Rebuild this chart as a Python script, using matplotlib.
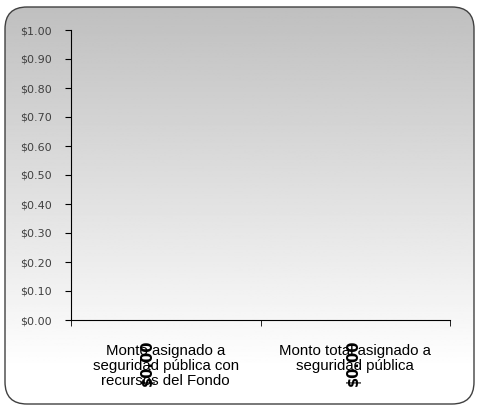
import numpy as np
import matplotlib
matplotlib.use('Agg')
import matplotlib.pyplot as plt
from matplotlib.patches import FancyBboxPatch

categories = ['Monto asignado a\nseguridad pública con\nrecursos del Fondo',
              'Monto total asignado a\nseguridad pública']
values = [0.0, 0.0]
yticks = [0.0, 0.1, 0.2, 0.3, 0.4, 0.5, 0.6, 0.7, 0.8, 0.9, 1.0]
label_dx = [-13, -1]   # data label offsets (points)

fig = plt.figure(figsize=(4.79, 4.08), dpi=100)
fig.patch.set_facecolor('white')

# background: rounded box with vertical grey->white gradient
bg = fig.add_axes([0, 0, 1, 1])
bg.axis('off')
fill = FancyBboxPatch((5, 4), 469, 397, boxstyle='round,pad=0,rounding_size=22',
                      facecolor='white', edgecolor='none', zorder=0)
bg.add_patch(fill)
grad = np.linspace(0.75, 1.0, 256).reshape(-1, 1)
im = bg.imshow(grad, cmap='gray', vmin=0, vmax=1, aspect='auto',
               extent=(5, 474, 40, 401), origin='upper', zorder=1)
box = FancyBboxPatch((5, 4), 469, 397, boxstyle='round,pad=0,rounding_size=22',
                     facecolor='none', edgecolor='#404040', linewidth=1.0, zorder=2)
bg.add_patch(box)
im.set_clip_path(box)
bg.set_xlim(0, 479)
bg.set_ylim(0, 408)

ax = fig.add_axes([71 / 479, 1 - 320 / 408, (450 - 71) / 479, (320 - 30) / 408])
ax.patch.set_alpha(0)
x = np.arange(len(categories))
bars = ax.bar(x, values, width=0.6, color='#4f81bd')
ax.set_xlim(-0.5, len(categories) - 0.5)
ax.set_ylim(0, 1.0)
ax.set_yticks(yticks)
ax.set_yticklabels(['${:.2f}'.format(v) for v in yticks], fontsize=8,
                   color='#404040', family='DejaVu Sans')
ax.set_xticks(x)
ax.set_xticklabels(categories, fontsize=10.8, family='Liberation Sans', linespacing=1.1)
ax.set_xticks(np.arange(len(categories) + 1) - 0.5, minor=True)
ax.tick_params(axis='x', which='major', length=0, pad=17)
ax.tick_params(axis='x', which='minor', length=4, direction='out')
ax.tick_params(axis='y', length=4, direction='out', pad=10)
for s in ['top', 'right']:
    ax.spines[s].set_visible(False)
for s in ['left', 'bottom']:
    ax.spines[s].set_color('black')
    ax.spines[s].set_linewidth(0.8)

for xi, v, dx in zip(x, values, label_dx):
    ax.annotate('${:.2f}'.format(v), (xi, v), xytext=(dx, -31),
                textcoords='offset points', rotation=90, ha='center', va='center',
                fontsize=10.5, fontweight='bold', family='DejaVu Sans')

fig.savefig('out.png', dpi=100)
